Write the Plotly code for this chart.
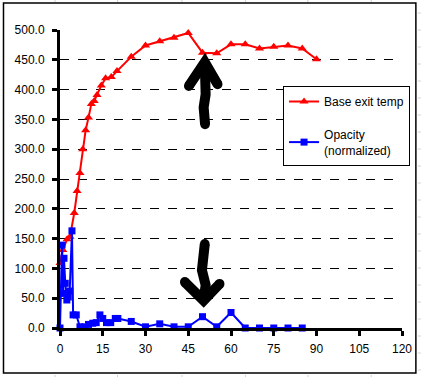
import plotly.graph_objects as go

# Base exit temp series
temp_t = [0, 1, 2.5, 3.5, 5, 6, 7, 8, 9, 10, 11, 12, 13, 14.5, 16, 18, 20, 25,
          30, 35, 40, 45, 50, 55, 60, 65, 70, 75, 80, 85, 90]
temp_v = [109, 131, 149, 153, 193, 230, 260, 300, 332, 353, 376, 381, 391, 407,
          419, 421, 431, 455, 474, 481, 487, 495, 462, 461, 476, 476, 469, 472,
          474, 469, 451]

# Opacity (normalized) series
opac_t = [0, 0.7, 1.1, 1.4, 1.85, 2.4, 2.9, 3.4, 4.2, 4.6, 5.7, 7, 8.7, 10, 11.5,
          12.7, 14, 15, 16.3, 17.8, 19.4, 20.3, 25, 30, 35, 40, 45, 50, 55, 60,
          65, 70, 75, 80, 85]
opac_v = [0, 139, 58, 117, 75, 47, 52, 62, 163, 22, 22, 2, 2, 6, 8, 9, 22, 16,
          9, 9, 16, 16, 11, 2, 7, 2, 2, 19, 2, 26, 0, 0, 0, 0, 0]

x_ticks = [0, 15, 30, 45, 60, 75, 90, 105, 120]
y_ticks = [0, 50, 100, 150, 200, 250, 300, 350, 400, 450, 500]

# hand-drawn arrows (data coordinates)
arrow_up = [(50.8, 444), (51.1, 392), (50.4, 370), (50.9, 342)]
arrow_up_head = [(45.2, 406), (50.8, 446), (55.3, 409)]
arrow_dn = [(50.8, 141), (49.8, 97), (51.1, 72), (50.4, 48)]
arrow_dn_head = [(43.8, 77), (50.4, 46), (56.0, 74)]

FONT = "Liberation Sans, Arial, sans-serif"

fig = go.Figure()
fig.add_trace(go.Scatter(
    x=temp_t, y=temp_v, name="Base exit temp", mode="lines+markers",
    line=dict(color="#ff0000", width=2),
    marker=dict(symbol="triangle-up", size=8, color="#ff0000"),
    cliponaxis=False, legendgroup="a"))
fig.add_trace(go.Scatter(
    x=opac_t, y=opac_v, name="Opacity<br>(normalized)", mode="lines+markers",
    line=dict(color="#0000ff", width=2),
    marker=dict(symbol="square", size=7, color="#0000ff"),
    cliponaxis=False, legendgroup="b"))


def path_of(pts):
    return "M " + " L ".join(f"{x},{y}" for x, y in pts)


shapes = []
for pts in (arrow_up, arrow_up_head, arrow_dn, arrow_dn_head):
    shapes.append(dict(type="path", xref="x", yref="y", path=path_of(pts),
                       line=dict(color="black", width=10)))
    for (x, y) in (pts[0], pts[-1]):
        shapes.append(dict(type="circle", xref="x", yref="y",
                           x0=x - 1.7, x1=x + 1.7, y0=y - 8.4, y1=y + 8.4,
                           fillcolor="black", line=dict(width=0)))

# chart-area frame
px = lambda p: (p - 60) / 345.0
py = lambda p: (328 - p) / 298.0
shapes.append(dict(type="rect", xref="paper", yref="paper",
                   x0=px(3), x1=px(419), y0=py(373), y1=py(3),
                   line=dict(color="black", width=1.5), layer="below"))
# faint spreadsheet grid outside the frame
for gx in [55, 118, 183, 247, 310, 374]:
    shapes.append(dict(type="line", xref="paper", yref="paper",
                       x0=px(gx), x1=px(gx), y0=py(0), y1=py(2),
                       line=dict(color="#d0d0d0", width=1)))
    shapes.append(dict(type="line", xref="paper", yref="paper",
                       x0=px(gx), x1=px(gx), y0=py(375), y1=py(377),
                       line=dict(color="#d0d0d0", width=1)))
for gy in range(13, 377, 17):
    shapes.append(dict(type="line", xref="paper", yref="paper",
                       x0=px(421), x1=px(424), y0=py(gy), y1=py(gy),
                       line=dict(color="#d0d0d0", width=1)))

fig.update_layout(
    width=424, height=377,
    margin=dict(l=60, r=19, t=30, b=49),
    paper_bgcolor="white", plot_bgcolor="white",
    font=dict(family=FONT, size=12, color="black"),
    shapes=shapes,
    showlegend=True,
    legend=dict(x=px(285), y=py(86), xanchor="left", yanchor="top",
                bgcolor="white", bordercolor="black", borderwidth=1,
                font=dict(family=FONT, size=12, color="black"),
                tracegroupgap=14, itemwidth=30),
    xaxis=dict(range=[0, 120], tickvals=x_ticks, ticktext=[str(v) for v in x_ticks],
               showgrid=False, zeroline=False, showline=True,
               linecolor="black", linewidth=3, ticks="outside", ticklen=5,
               tickwidth=3, tickcolor="black", fixedrange=True,
               ticklabelstandoff=3),
    yaxis=dict(range=[0, 500], tickvals=y_ticks, tickformat=".1f",
               showgrid=True, gridcolor="black", griddash="dash", gridwidth=1,
               zeroline=False, showline=True, linecolor="black", linewidth=3,
               ticks="outside", ticklen=5, tickwidth=3, tickcolor="black",
               fixedrange=True, ticklabelstandoff=5),
)

fig.write_html("out.html",
               config={"displayModeBar": False, "staticPlot": True},
               post_script="document.body.style.margin='0';"
                           "document.body.style.overflow='hidden';")
